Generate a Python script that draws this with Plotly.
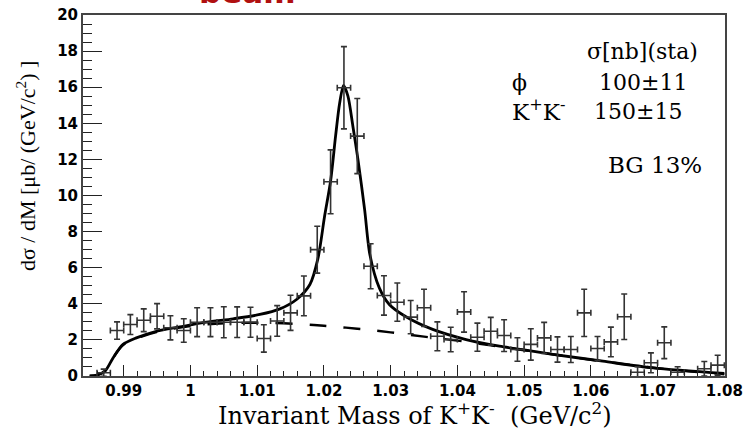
import plotly.graph_objects as go

# ---------------- data ----------------
mass = [0.987, 0.989, 0.991, 0.993, 0.995, 0.997, 0.999, 1.001, 1.003, 1.005,
        1.007, 1.009, 1.011, 1.013, 1.015, 1.017, 1.019, 1.021, 1.023, 1.025,
        1.027, 1.029, 1.031, 1.033, 1.035, 1.037, 1.039, 1.041, 1.043, 1.045,
        1.047, 1.049, 1.051, 1.053, 1.055, 1.057, 1.059, 1.061, 1.063, 1.065,
        1.067, 1.069, 1.071, 1.073, 1.077, 1.079]
xsec = [0.18, 2.52, 2.85, 3.09, 3.31, 2.67, 2.52, 2.98, 2.98, 2.98,
        2.98, 2.98, 2.08, 3.05, 3.50, 4.44, 7.00, 10.76, 15.97, 13.29,
        6.08, 4.46, 4.09, 3.26, 3.78, 2.20, 2.02, 3.55, 2.15, 2.48,
        2.24, 1.47, 1.75, 2.11, 1.47, 1.47, 3.50, 1.52, 1.89, 3.28,
        0.21, 0.73, 1.84, 0.21, 0.40, 0.60]
xsec_err = [0.20, 0.48, 0.55, 0.63, 0.70, 0.67, 0.65, 0.80, 0.80, 0.86,
            0.85, 0.83, 0.76, 0.85, 0.97, 1.10, 1.30, 1.77, 2.28, 2.08,
            1.25, 1.09, 1.06, 0.92, 1.03, 0.80, 0.68, 1.12, 0.78, 0.77,
            0.88, 0.65, 0.87, 0.86, 0.70, 0.72, 1.31, 0.67, 0.82, 1.26,
            0.30, 0.55, 0.88, 0.30, 0.40, 0.55]
bin_half_width = 0.001

fit_mass = [0.9849, 0.9860, 0.9872, 0.9884, 0.9899, 0.9919, 0.9949, 0.9984,
            1.0024, 1.0064, 1.0104, 1.0134, 1.0159, 1.0179, 1.0191, 1.0201,
            1.0210, 1.02175, 1.02235, 1.02295, 1.0236, 1.02434, 1.0251,
            1.0261, 1.0269, 1.0283, 1.0298, 1.0323, 1.0363, 1.0413, 1.0463,
            1.0500, 1.0543, 1.0618, 1.0693, 1.0800]
fit_total = [0.0, 0.05, 0.27, 1.00, 1.75, 2.11, 2.48, 2.72,
             2.98, 3.17, 3.41, 3.72, 4.24, 5.07, 6.50, 8.85,
             10.80, 13.30, 15.10, 16.10, 15.50, 13.84, 12.00,
             9.22, 6.70, 4.88, 3.96, 3.28, 2.58, 2.02, 1.65,
             1.45, 1.20, 0.82, 0.45, 0.14]

bg_mass = [0.9849, 0.9860, 0.9872, 0.9884, 0.9899, 0.9919, 0.9949, 0.9984,
           1.0024, 1.0070, 1.0120, 1.0170, 1.0200, 1.0250, 1.0300, 1.0350,
           1.0400, 1.0450, 1.0500, 1.0550, 1.0600, 1.0650, 1.0700, 1.0750,
           1.0800]
bg_curve = [0.0, 0.05, 0.27, 1.00, 1.72, 2.08, 2.43, 2.68,
            2.86, 2.94, 2.94, 2.86, 2.78, 2.62, 2.42, 2.18,
            1.96, 1.70, 1.43, 1.16, 0.90, 0.66, 0.43, 0.25,
            0.10]

x_tickvals = [0.99, 1.00, 1.01, 1.02, 1.03, 1.04, 1.05, 1.06, 1.07, 1.08]
x_ticktext = ["0.99", "1", "1.01", "1.02", "1.03", "1.04", "1.05", "1.06", "1.07", "1.08"]
y_tickvals = [0, 2, 4, 6, 8, 10, 12, 14, 16, 18, 20]

# ---------------- layout helpers ----------------
W, H = 743, 435
L, R, T, B = 83, 18, 15, 59
PW, PH = W - L - R, H - T - B


def px_x(p):
    return (p - L) / PW


def px_y(p):
    return (H - B - p) / PH


SERIF = "DejaVu Serif"
TIMES = "Liberation Serif"
SANS_BOLD = "DejaVu Sans"

fig = go.Figure()

fig.add_trace(go.Scatter(
    x=bg_mass, y=bg_curve, mode="lines", line_shape="spline",
    line=dict(color="black", width=2.4, dash="17px,17px"), hoverinfo="skip"))

fig.add_trace(go.Scatter(
    x=fit_mass, y=fit_total, mode="lines", line_shape="spline",
    line=dict(color="black", width=2.8, smoothing=0.8), hoverinfo="skip"))

fig.add_trace(go.Scatter(
    x=mass, y=xsec, mode="markers",
    marker=dict(size=1, color="#333333"),
    error_y=dict(type="data", array=xsec_err, visible=True,
                 color="#333333", thickness=1.6, width=3),
    error_x=dict(type="constant", value=bin_half_width, visible=True,
                 color="#333333", thickness=1.6, width=3)))

ann = []
# partially clipped red heading at the very top
ann.append(dict(text="beam", xref="paper", yref="paper", x=px_x(247), y=px_y(12),
                xanchor="center", yanchor="bottom", showarrow=False,
                font=dict(family=SANS_BOLD, size=31, color="#b01010", weight="bold")))
# cross-section table
ann.append(dict(text="σ[nb](sta)", xref="paper", yref="paper", x=px_x(700), y=px_y(51),
                xanchor="right", yanchor="middle", showarrow=False,
                font=dict(family=SERIF, size=22, color="black")))
ann.append(dict(text="ϕ", xref="paper", yref="paper", x=px_x(510), y=px_y(83),
                xanchor="left", yanchor="middle", showarrow=False,
                font=dict(family=SERIF, size=22, color="black")))
ann.append(dict(text="100±11", xref="paper", yref="paper", x=px_x(597), y=px_y(82),
                xanchor="left", yanchor="middle", showarrow=False,
                font=dict(family=SERIF, size=22, color="black")))
ann.append(dict(text="K<sup>+</sup>K<sup>-</sup>", xref="paper", yref="paper", x=px_x(510), y=px_y(110),
                xanchor="left", yanchor="middle", showarrow=False,
                font=dict(family=SERIF, size=23, color="black")))
ann.append(dict(text="150±15", xref="paper", yref="paper", x=px_x(592), y=px_y(111),
                xanchor="left", yanchor="middle", showarrow=False,
                font=dict(family=SERIF, size=22, color="black")))
ann.append(dict(text="BG 13%", xref="paper", yref="paper", x=px_x(704), y=px_y(165),
                xanchor="right", yanchor="middle", showarrow=False,
                font=dict(family=SERIF, size=23, color="black")))
# axis titles
ann.append(dict(text="Invariant Mass of K<sup>+</sup>K<sup>-</sup>\u00a0\u00a0(GeV/c<sup>2</sup>)",
                xref="paper", yref="paper", x=px_x(415), y=px_y(414),
                xanchor="center", yanchor="middle", showarrow=False,
                font=dict(family=SERIF, size=24, color="black")))
ann.append(dict(text="dσ / dM [μb/ (GeV/c<sup>2</sup>) ]",
                xref="paper", yref="paper", x=px_x(26), y=px_y(166),
                xanchor="center", yanchor="middle", showarrow=False, textangle=-90,
                font=dict(family=TIMES, size=22, color="black")))

fig.update_layout(
    width=W, height=H,
    margin=dict(l=L, r=R, t=T, b=B, autoexpand=False),
    paper_bgcolor="white", plot_bgcolor="white",
    showlegend=False,
    annotations=ann,
    xaxis=dict(range=[0.9839, 1.0801], showgrid=False, zeroline=False,
               tickvals=x_tickvals, ticktext=x_ticktext,
               ticklabeloverflow="allow",
               ticks="inside", ticklen=11, tickwidth=1.3, tickcolor="#222",
               showline=True, linecolor="#444", linewidth=2, mirror=True,
               tickfont=dict(family=SANS_BOLD, size=15, color="black", weight="bold"),
               minor=dict(dtick=0.002, tick0=0.99, ticks="inside", ticklen=5,
                          tickwidth=1.2, tickcolor="#222", showgrid=False)),
    yaxis=dict(range=[0, 20], showgrid=False, zeroline=False,
               tickvals=y_tickvals,
               ticks="inside", ticklen=19, tickwidth=1.3, tickcolor="#222",
               showline=True, linecolor="#444", linewidth=2, mirror=True,
               tickfont=dict(family=SANS_BOLD, size=15, color="black", weight="bold"),
               minor=dict(dtick=0.5, tick0=0, ticks="inside", ticklen=9,
                          tickwidth=1.2, tickcolor="#222", showgrid=False)),
)

fig.write_html("out.html")
